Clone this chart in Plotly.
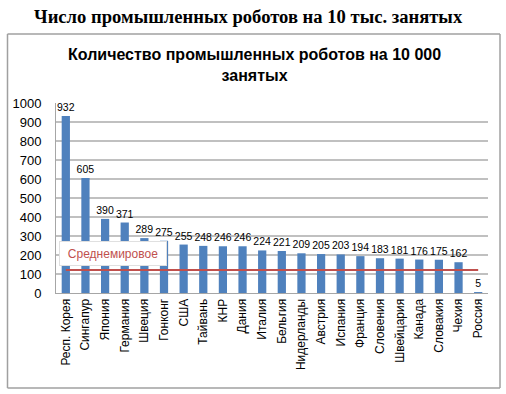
import plotly.graph_objects as go

countries = ["Респ. Корея", "Сингапур", "Япония", "Германия", "Швеция", "Гонконг", "США",
             "Тайвань", "КНР", "Дания", "Италия", "Бельгия", "Нидерланды", "Австрия",
             "Испания", "Франция", "Словения", "Швейцария", "Канада", "Словакия", "Чехия", "Россия"]
robots = [932, 605, 390, 371, 289, 275, 255, 248, 246, 246, 224, 221, 209, 205, 203, 194,
          183, 181, 176, 175, 162, 5]
world_avg = 121
y_ticks = [0, 100, 200, 300, 400, 500, 600, 700, 800, 900, 1000]

W, H = 506, 394
PL, PR, PT, PB = 56, 488, 103, 293          # plot box in page pixels
L, R, T, B = PL, W - PR, PT, H - PB
pw, ph = PR - PL, PB - PT

def px(x):
    return (x - PL) / pw

def py(y):
    return (PB - y) / ph

fig = go.Figure()
fig.add_trace(go.Bar(
    x=countries, y=robots, marker_color="#4F81BD", marker_line_width=0,
    text=[str(v) for v in robots], textposition="outside", constraintext="none",
    textfont=dict(size=10.5, color="#000000", family="Liberation Sans"),
    cliponaxis=False, showlegend=False, hoverinfo="x+y"))
fig.add_trace(go.Scatter(
    x=[countries[0], countries[-1]], y=[world_avg, world_avg], mode="lines",
    line=dict(color="#C0504D", width=2.2), showlegend=False))

border = dict(color="#A0A0A0", width=1.5)
bx0, bx1, by0, by1 = px(7.5), px(500), py(388), py(34)

fig.update_layout(
    width=W, height=H, margin=dict(l=L, r=R, t=T, b=B, autoexpand=False),
    paper_bgcolor="white", plot_bgcolor="white",
    bargap=0.58,
    font=dict(family="Liberation Sans", color="#000000"),
    xaxis=dict(type="category", tickangle=-90, tickfont=dict(size=12),
               showline=True, linecolor="#A6A6A6", linewidth=1, showgrid=False,
               ticks="", fixedrange=True, automargin=False),
    yaxis=dict(range=[0, 1000], tickvals=y_ticks, tickfont=dict(size=13),
               showgrid=True, gridcolor="#C0C0C0", gridwidth=1.5,
               showline=True, linecolor="#A6A6A6", linewidth=1, zeroline=False,
               ticks="", ticklabelstandoff=11, fixedrange=True, automargin=False),
    shapes=[
        dict(type="line", xref="paper", yref="paper", x0=bx0, x1=bx1, y0=by1, y1=by1, line=border),
        dict(type="line", xref="paper", yref="paper", x0=bx0, x1=bx1, y0=by0, y1=by0, line=border),
        dict(type="line", xref="paper", yref="paper", x0=bx0, x1=bx0, y0=by0, y1=by1, line=border),
        dict(type="line", xref="paper", yref="paper", x0=bx1, x1=bx1, y0=by0, y1=by1, line=border),
    ],
    annotations=[
        dict(text="<b>Число промышленных роботов на 10 тыс. занятых</b>",
             xref="paper", yref="paper", x=px(248), y=py(17), showarrow=False,
             font=dict(family="Liberation Serif", size=18.6, color="#000000"),
             xanchor="center", yanchor="middle"),
        dict(text="<b>Количество промышленных роботов на 10 000<br>занятых</b>",
             xref="paper", yref="paper", x=px(254), y=py(65), showarrow=False,
             font=dict(family="Liberation Sans", size=16, color="#000000"),
             xanchor="center", yanchor="middle"),
        dict(text="Среднемировое", xref="paper", yref="paper", x=px(113), y=py(253.5),
             showarrow=False, font=dict(family="Liberation Sans", size=12, color="#C0504D"),
             bgcolor="white", bordercolor="#E0E0E0", borderwidth=1,
             width=104, height=21, xanchor="center", yanchor="middle"),
    ],
)

fig.write_html("out.html", config={"displayModeBar": False, "staticPlot": True},
               post_script="document.body.style.margin='0px';document.body.style.overflow='hidden';")
